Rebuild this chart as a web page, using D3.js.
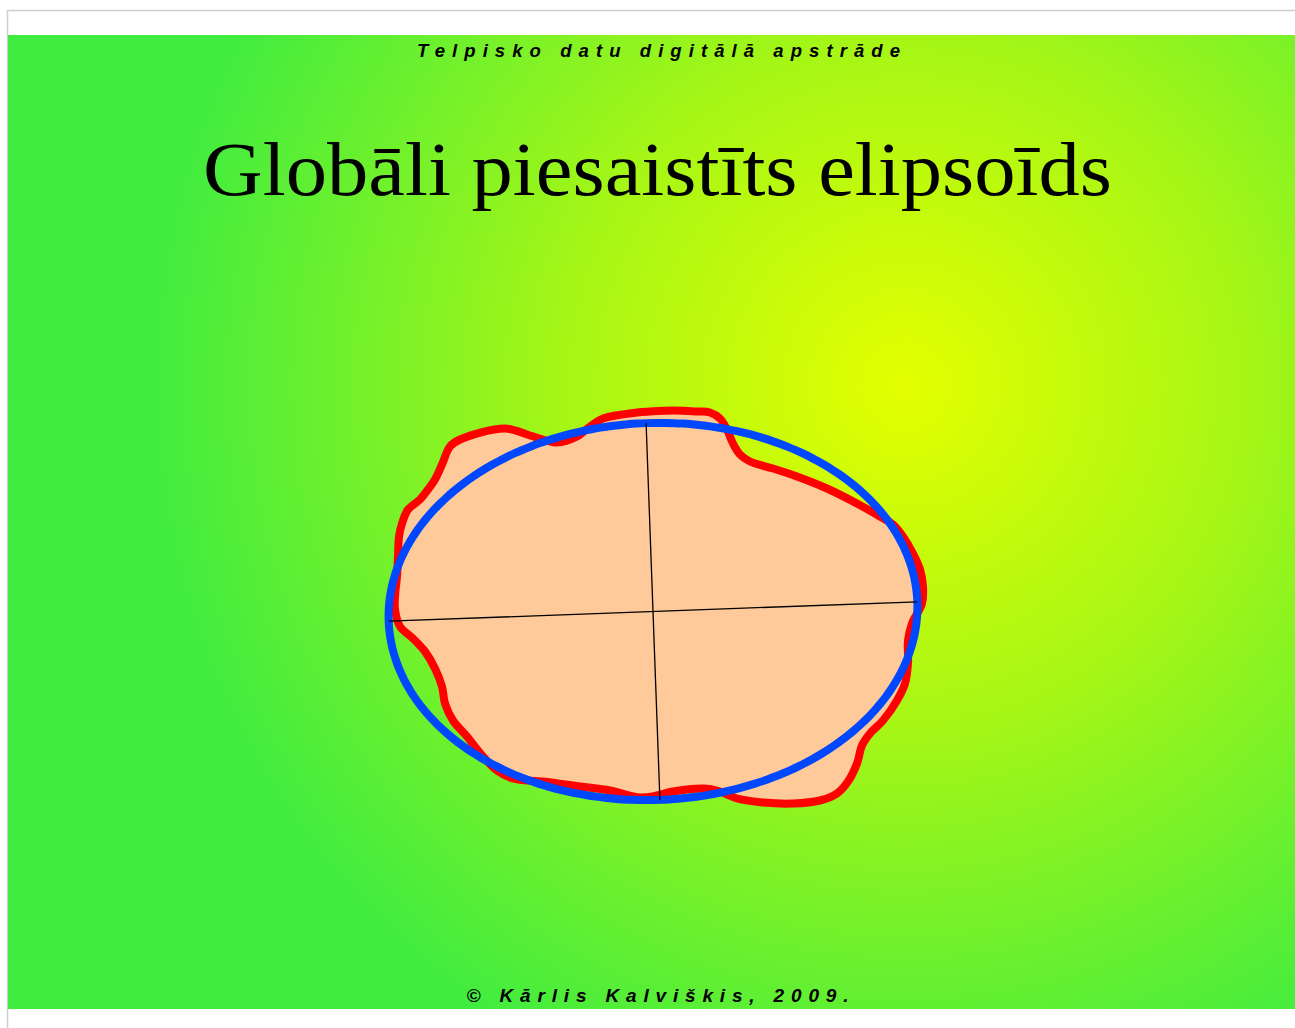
<!DOCTYPE html>
<html>
<head>
<meta charset="utf-8">
<script src="https://cdn.jsdelivr.net/npm/d3@7"></script>
<style>
  html, body { margin: 0; padding: 0; background: #fff; overflow: hidden; }
</style>
</head>
<body>
<svg id="chart"></svg>
<script>
// texts
const headerText = "Telpisko datu digitālā apstrāde";
const titleText = "Globāli piesaistīts elipsoīds";
const footerText = "© Kārlis Kalviškis, 2009.";

// ellipse: centre, semi axes (px units of the drawing), rotation in degrees
const ellipseCenter = [0, 0];
const ellipseAxes = [264.5, 188.5];
const ellipseRotation = 2.1;

// geoid outline (x right, y up, origin at ellipse centre)
const geoidX = [-3, 20, 44, 57, 67, 74, 80, 87, 97, 120, 144, 174, 204, 227, 240, 250, 260, 267, 270, 269,
  259, 255, 255, 252, 244, 230, 217, 209, 204, 195, 184, 167, 140, 110, 84, 64, 50, 20, 4, -13,
  -43, -73, -110, -140, -156, -170, -186, -200, -208, -211, -218, -228, -240, -253, -258, -258, -256, -255, -254, -251,
  -245, -233, -225, -218, -211, -203, -193, -148, -123, -96, -76, -63, -50, -16];
const geoidY = [200, 201, 200, 199, 193, 182, 168, 157, 150, 143, 135, 123, 108, 95, 87, 75, 58, 42, 25, 8,
  -12, -29, -52, -72, -89, -109, -122, -134, -152, -170, -182, -189, -192, -191, -187, -179, -177, -180, -184, -186,
  -179, -175, -170, -167, -159, -145, -125, -109, -92, -75, -57, -40, -27, -15, 2, 15, 35, 55, 75, 88,
  102, 112, 122, 132, 147, 165, 172, 183, 176, 169, 175, 185, 193, 199];

const W = 1295, H = 1028;
const cx = 653, cy = 611.5;

const svg = d3.select("#chart").attr("width", W).attr("height", H);

// drawing scales: one unit = one pixel, y up
const x = d3.scaleLinear().domain([-300, 300]).range([cx - 300, cx + 300]);
const y = d3.scaleLinear().domain([-300, 300]).range([cy + 300, cy - 300]);

// background gradient
const defs = svg.append("defs");
const grad = defs.append("radialGradient")
  .attr("id", "bg")
  .attr("gradientUnits", "userSpaceOnUse")
  .attr("cx", 905).attr("cy", 385).attr("r", 760);
grad.append("stop").attr("offset", "0%").attr("stop-color", "#e4ff00");
grad.append("stop").attr("offset", "45%").attr("stop-color", "#a6f616");
grad.append("stop").attr("offset", "100%").attr("stop-color", "#40ec40");

// page frame
svg.append("rect")
  .attr("x", 7.5).attr("y", 10.5)
  .attr("width", W).attr("height", H)
  .attr("fill", "none")
  .attr("stroke", "#cfcfcf")
  .attr("stroke-width", 1.5);

svg.append("rect")
  .attr("x", 8).attr("y", 35)
  .attr("width", W - 8).attr("height", 974)
  .attr("fill", "url(#bg)");

// texts
svg.append("text")
  .attr("x", 658.5).attr("y", 56.5)
  .attr("text-anchor", "middle")
  .attr("textLength", 483)
  .attr("lengthAdjust", "spacing")
  .style("font", "italic bold 18.5px 'Liberation Sans', Arial, sans-serif")
  .text(headerText);

svg.append("text")
  .attr("x", 657.5).attr("y", 195)
  .attr("text-anchor", "middle")
  .attr("textLength", 909)
  .attr("lengthAdjust", "spacingAndGlyphs")
  .style("font", "76px 'Liberation Serif', 'Times New Roman', serif")
  .text(titleText);

svg.append("text")
  .attr("x", 657.5).attr("y", 1001.5)
  .attr("text-anchor", "middle")
  .attr("textLength", 382)
  .attr("lengthAdjust", "spacing")
  .style("font", "italic bold 19px 'Liberation Sans', Arial, sans-serif")
  .text(footerText);

// geoid
const geoid = geoidX.map((d, i) => [d, geoidY[i]]);
const line = d3.line()
  .x(d => x(d[0]))
  .y(d => y(d[1]))
  .curve(d3.curveCatmullRomClosed.alpha(0.5));

svg.append("path")
  .datum(geoid)
  .attr("d", line)
  .attr("fill", "#ffca99")
  .attr("stroke", "#ff0000")
  .attr("stroke-width", 8)
  .attr("stroke-linejoin", "round");

// ellipse
const th = ellipseRotation * Math.PI / 180;
const ellPts = d3.range(0, 360, 2).map(a => {
  const t = a * Math.PI / 180;
  const ex = ellipseAxes[0] * Math.cos(t), ey = ellipseAxes[1] * Math.sin(t);
  return [ellipseCenter[0] + ex * Math.cos(th) - ey * Math.sin(th),
          ellipseCenter[1] + ex * Math.sin(th) + ey * Math.cos(th)];
});
svg.append("path")
  .datum(ellPts)
  .attr("d", line)
  .attr("fill", "none")
  .attr("stroke", "#0048ff")
  .attr("stroke-width", 8);

// axes of the ellipse
const axes = [
  [[-ellipseAxes[0], 0], [ellipseAxes[0], 0]],
  [[0, -ellipseAxes[1]], [0, ellipseAxes[1]]]
].map(seg => seg.map(([ex, ey]) => [
  ellipseCenter[0] + ex * Math.cos(th) - ey * Math.sin(th),
  ellipseCenter[1] + ex * Math.sin(th) + ey * Math.cos(th)
]));
svg.append("g")
  .selectAll("line")
  .data(axes)
  .join("line")
  .attr("x1", d => x(d[0][0])).attr("y1", d => y(d[0][1]))
  .attr("x2", d => x(d[1][0])).attr("y2", d => y(d[1][1]))
  .attr("stroke", "#000")
  .attr("stroke-width", 1.3);
</script>
</body>
</html>
